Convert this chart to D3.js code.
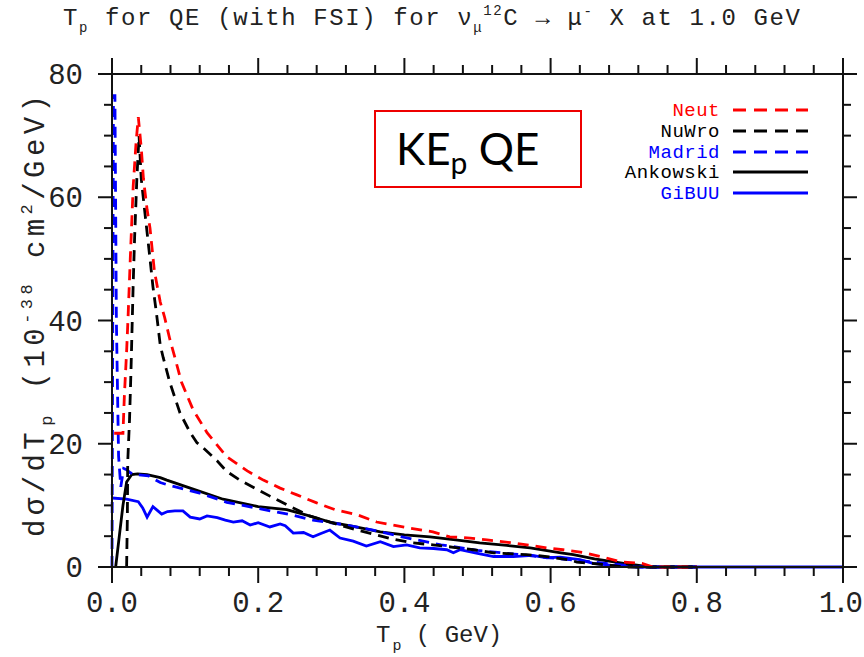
<!DOCTYPE html>
<html>
<head>
<meta charset="utf-8">
<script src="https://cdn.jsdelivr.net/npm/d3@7"></script>
<style>
  html, body { margin: 0; padding: 0; background: #fff; }
  svg { display: block; }
</style>
</head>
<body>
<svg id="chart" width="864" height="657"></svg>
<script>
// Proton kinetic energy spectra, QE with FSI, nu_mu 12C at 1.0 GeV
const neutT = [0.003, 0.015, 0.017, 0.020, 0.022, 0.025, 0.029, 0.033, 0.036, 0.040, 0.043, 0.048, 0.052, 0.058, 0.066, 0.072, 0.079, 0.086, 0.095, 0.111, 0.130, 0.157, 0.185, 0.207, 0.230, 0.253, 0.280, 0.305, 0.335, 0.362, 0.408, 0.439, 0.462, 0.490, 0.513, 0.549, 0.595, 0.617, 0.647, 0.672, 0.697, 0.725, 0.740, 0.800];
const neutV = [21.7, 21.7, 28, 35, 40.6, 50, 61.8, 69, 73, 68, 63, 58, 55, 48, 43, 40.5, 37, 34, 30, 25.5, 21.8, 17.9, 15.6, 14.1, 12.8, 11.7, 10.4, 9.3, 8.5, 7.3, 6.3, 5.7, 4.9, 4.7, 4.4, 3.9, 3.1, 2.8, 2.3, 1.6, 0.8, 0.6, 0, 0];

const nuwroT = [0.020, 0.021, 0.0215, 0.024, 0.026, 0.029, 0.031, 0.034, 0.037, 0.040, 0.045, 0.052, 0.056, 0.061, 0.066, 0.070, 0.079, 0.093, 0.107, 0.116, 0.125, 0.144, 0.157, 0.175, 0.200, 0.216, 0.239, 0.270, 0.312, 0.335, 0.362, 0.385, 0.412, 0.439, 0.467, 0.494, 0.522, 0.567, 0.595, 0.627, 0.636, 0.681, 0.700, 0.800];
const nuwroV = [0, 8, 17, 24, 32, 46, 53.7, 63, 70, 63, 57.5, 50, 45.5, 41, 36, 34, 30, 25, 21.8, 20.2, 19.3, 17.2, 15.5, 14.1, 12.5, 11.5, 10.1, 8.3, 6.8, 6.0, 5.2, 4.5, 3.9, 3.6, 3.2, 2.8, 2.3, 2.0, 1.7, 1.1, 0.8, 0.3, 0, 0];

const madridT = [0.000, 0.002, 0.004, 0.006, 0.009, 0.012, 0.016, 0.020, 0.025, 0.030, 0.050, 0.066, 0.080, 0.120, 0.157, 0.200, 0.244, 0.275, 0.321, 0.357, 0.400, 0.450, 0.500, 0.550, 0.600, 0.650, 0.700, 0.720, 0.800];
const madridV = [0, 76.5, 76.5, 40, 18, 13, 16, 15.8, 15.3, 15, 14.8, 13.7, 13.2, 12, 10.5, 9.5, 8.5, 7.6, 6.8, 6.0, 4.8, 3.6, 2.7, 2.1, 1.5, 0.9, 0.3, 0, 0];

const ankowskiT = [0.005, 0.010, 0.015, 0.020, 0.027, 0.035, 0.048, 0.066, 0.075, 0.107, 0.152, 0.200, 0.239, 0.270, 0.298, 0.330, 0.367, 0.400, 0.435, 0.470, 0.503, 0.540, 0.572, 0.614, 0.631, 0.660, 0.700, 0.736, 0.800];
const ankowskiV = [0, 5, 10, 13.8, 15, 15.1, 15, 14.5, 14.1, 12.8, 11, 9.8, 9.3, 8.3, 7.3, 6.6, 5.7, 5.2, 4.9, 4.4, 3.9, 3.5, 3.1, 2.3, 2.0, 1.3, 0.6, 0, 0];

const gibuuT = [0.000, 0.020, 0.036, 0.042, 0.048, 0.056, 0.062, 0.068, 0.076, 0.086, 0.097, 0.107, 0.120, 0.130, 0.144, 0.155, 0.166, 0.178, 0.189, 0.200, 0.216, 0.230, 0.237, 0.248, 0.262, 0.275, 0.285, 0.298, 0.312, 0.330, 0.348, 0.367, 0.385, 0.403, 0.421, 0.440, 0.458, 0.467, 0.476, 0.500, 0.522, 0.549, 0.575, 0.595, 0.613, 0.640, 0.658, 0.681, 0.718, 1.000];
const gibuuV = [11.2, 11.0, 10.6, 9.6, 8.1, 9.8, 9.2, 8.6, 9.0, 9.1, 9.1, 8.1, 7.8, 8.3, 8.0, 7.6, 7.3, 7.5, 6.8, 7.2, 6.5, 7.0, 6.7, 5.5, 5.6, 4.9, 5.4, 6.0, 4.7, 4.2, 3.4, 4.1, 3.3, 3.6, 3.1, 3.0, 2.8, 2.3, 2.8, 2.2, 1.7, 1.7, 1.9, 1.5, 1.6, 1.2, 0.6, 0.3, 0, 0];

const seriesNames = ["Neut", "NuWro", "Madrid", "Ankowski", "GiBUU"];
const seriesColors = ["#ff0000", "#000000", "#0000ff", "#000000", "#0000ff"];
const seriesDashed = [true, true, true, false, false];

const xTicks = [0, 0.2, 0.4, 0.6, 0.8, 1.0];
const xTickLabels = ["0.0", "0.2", "0.4", "0.6", "0.8", "1.0"];
const yTicks = [0, 20, 40, 60, 80];
const yTickLabels = ["0", "20", "40", "60", "80"];

const seriesData = [
  d3.zip(neutT, neutV),
  d3.zip(nuwroT, nuwroV),
  d3.zip(madridT, madridV),
  d3.zip(ankowskiT, ankowskiV),
  d3.zip(gibuuT, gibuuV)
];

const svg = d3.select("#chart");
const x = d3.scaleLinear().domain([0, 1]).range([112, 843]);
const y = d3.scaleLinear().domain([0, 80]).range([567, 74]);
const monoFont = "'Liberation Mono', 'DejaVu Sans Mono', monospace";
const textColor = "#222";
const DASH = "11,7";

// Curves (GiBUU underneath, Neut on top)
const line = d3.line().x(d => x(d[0])).y(d => y(d[1]));
const drawOrder = [4, 3, 2, 1, 0];
drawOrder.forEach(i => {
  svg.append("path")
    .datum(seriesData[i])
    .attr("d", line)
    .attr("fill", "none")
    .attr("stroke", seriesColors[i])
    .attr("stroke-width", 2.8)
    .attr("stroke-dasharray", seriesDashed[i] ? DASH : null)
    .attr("stroke-linejoin", "miter");
});

// Frame and ticks on all four sides (ticks outward)
const frame = svg.append("g").attr("stroke", "#111").attr("stroke-width", 2);
frame.append("rect")
  .attr("x", x(0)).attr("y", y(80))
  .attr("width", x(1) - x(0)).attr("height", y(0) - y(80))
  .attr("fill", "none");

const xMinor = d3.range(0, 1.0001, 0.04);
const yMinor = d3.range(0, 80.001, 5);
const isMajorX = v => Math.abs(v * 5 - Math.round(v * 5)) < 1e-6;
const isMajorY = v => Math.abs(v / 20 - Math.round(v / 20)) < 1e-6;

xMinor.forEach(v => {
  const len = isMajorX(v) ? 16 : 9;
  frame.append("line").attr("x1", x(v)).attr("x2", x(v)).attr("y1", y(0)).attr("y2", y(0) + len);
  frame.append("line").attr("x1", x(v)).attr("x2", x(v)).attr("y1", y(80)).attr("y2", y(80) - len);
});
yMinor.forEach(v => {
  const len = isMajorY(v) ? 14 : 8;
  frame.append("line").attr("y1", y(v)).attr("y2", y(v)).attr("x1", x(0)).attr("x2", x(0) - len);
  frame.append("line").attr("y1", y(v)).attr("y2", y(v)).attr("x1", x(1)).attr("x2", x(1) + len);
});

// Tick labels
const tickStyle = sel => sel.attr("font-family", monoFont).attr("font-size", 29).attr("fill", textColor);
xTicks.forEach((v, i) => {
  const last = i === xTicks.length - 1;
  svg.append("text").call(tickStyle)
    .attr("x", last ? 863 : x(v)).attr("y", 612)
    .attr("text-anchor", last ? "end" : "middle")
    .attr("textLength", last ? 44 : 52).attr("lengthAdjust", "spacing")
    .text(xTickLabels[i]);
});
yTicks.forEach((v, i) => {
  svg.append("text").call(tickStyle)
    .attr("x", 83).attr("y", y(v) + 10)
    .attr("text-anchor", "end")
    .text(yTickLabels[i]);
});

// Title
const title = svg.append("text")
  .attr("x", 63).attr("y", 25)
  .attr("font-family", monoFont).attr("font-size", 24).attr("fill", textColor)
  .attr("textLength", 737).attr("lengthAdjust", "spacing");
title.append("tspan").text("T");
title.append("tspan").attr("dy", 7).attr("font-size", 14).text("p");
title.append("tspan").attr("dy", -7).text(" for QE (with FSI) for ν");
title.append("tspan").attr("dy", 7).attr("font-size", 14).text("μ");
title.append("tspan").attr("dy", -17).attr("font-size", 14).text("12");
title.append("tspan").attr("dy", 10).text("C → μ");
title.append("tspan").attr("dy", -9).attr("font-size", 14).text("-");
title.append("tspan").attr("dy", 9).text(" X at 1.0 GeV");

// X axis label
const xl = svg.append("text")
  .attr("x", 376).attr("y", 642)
  .attr("font-family", monoFont).attr("font-size", 24).attr("fill", textColor);
xl.append("tspan").text("T");
xl.append("tspan").attr("dx", 2).attr("dy", 8).attr("font-size", 15).text("p");
xl.append("tspan").attr("dy", -8).text(" ( GeV)");

// Y axis label
const yl = svg.append("text")
  .attr("transform", "translate(44,537) rotate(-90)")
  .attr("font-family", monoFont).attr("font-size", 29).attr("fill", textColor)
  .attr("textLength", 442).attr("lengthAdjust", "spacing");
yl.append("tspan").text("dσ/dT");
yl.append("tspan").attr("dx", 2).attr("dy", 8).attr("font-size", 17).text("p");
yl.append("tspan").attr("dy", -8).text(" (10");
yl.append("tspan").attr("dy", -12).attr("font-size", 17).text("-38");
yl.append("tspan").attr("dy", 12).text(" cm");
yl.append("tspan").attr("dy", -12).attr("font-size", 17).text("2");
yl.append("tspan").attr("dy", 12).text("/GeV)");

// Legend
const legendY = [110, 131, 152, 172, 193];
seriesNames.forEach((name, i) => {
  svg.append("text")
    .attr("x", 720).attr("y", legendY[i] + 6)
    .attr("text-anchor", "end")
    .attr("font-family", monoFont).attr("font-size", 19)
    .attr("letter-spacing", 0.5)
    .attr("fill", seriesColors[i])
    .text(name);
  svg.append("line")
    .attr("x1", 733).attr("x2", 808)
    .attr("y1", legendY[i]).attr("y2", legendY[i])
    .attr("stroke", seriesColors[i]).attr("stroke-width", 3)
    .attr("stroke-dasharray", seriesDashed[i] ? "13,8" : null);
});

// Annotation box
svg.append("rect")
  .attr("x", 375).attr("y", 111).attr("width", 206).attr("height", 76)
  .attr("fill", "#fff").attr("stroke", "#ee0000").attr("stroke-width", 2);
const ann = svg.append("text")
  .attr("x", 396).attr("y", 165)
  .attr("font-family", "Lato, 'Open Sans', sans-serif").attr("font-size", 44).attr("fill", "#000");
ann.append("tspan").text("KE");
ann.append("tspan").attr("dy", 9).attr("font-size", 30).text("p");
ann.append("tspan").attr("dy", -9).text(" QE");
</script>
</body>
</html>
